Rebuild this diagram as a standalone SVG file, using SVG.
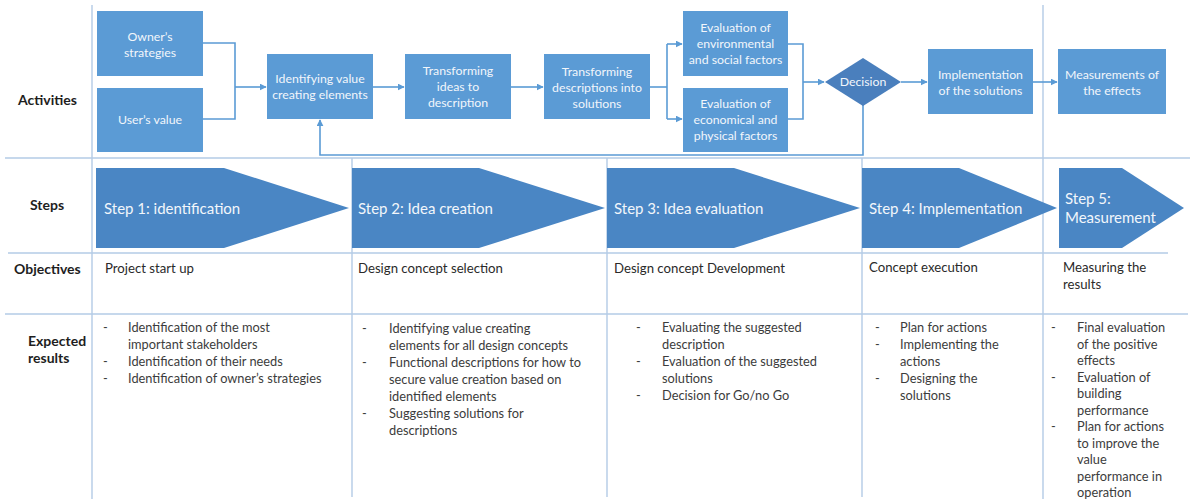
<svg xmlns="http://www.w3.org/2000/svg" width="1190" height="502" viewBox="0 0 1190 502">
  <defs>
    <marker id="arr" viewBox="0 0 10 10" refX="9" refY="5" markerWidth="7" markerHeight="7" markerUnits="userSpaceOnUse" orient="auto">
      <path d="M0,0 L10,5 L0,10 Z" fill="#5B9BD5"/>
    </marker>
    <style>
      .grid { stroke: #b3cbe6; stroke-width: 1.4; fill: none; }
      .box { fill: #5B9BD5; }
      .dec { fill: #4A7FBD; }
      .chev { fill: #4A86C4; }
      .wire { stroke: #5B9BD5; stroke-width: 1.6; fill: none; }
      .nt { font-family: Lato, "Open Sans", sans-serif; font-size: 12.3px; fill: #f2f6fb; text-anchor: middle; }
      .st { font-family: Lato, "Open Sans", sans-serif; font-size: 15px; fill: #f2f6fb; }
      .lab { font-family: Lato, "Open Sans", sans-serif; font-size: 14px; font-weight: bold; fill: #1e1e1e; }
      .body { font-family: Lato, "Open Sans", sans-serif; font-size: 12.8px; fill: #3c3c3c; }
      .obj { font-family: Lato, "Open Sans", sans-serif; font-size: 13.2px; fill: #2a2a2a; }
    </style>
  </defs>

  <rect width="1190" height="502" fill="#ffffff"/>

  <!-- table grid -->
  <g id="grid">
    <line class="grid" x1="92" y1="5" x2="92" y2="499"/>
    <line class="grid" x1="1043" y1="5" x2="1043" y2="499"/>
    <line class="grid" x1="352" y1="158" x2="352" y2="497"/>
    <line class="grid" x1="607" y1="158" x2="607" y2="497"/>
    <line class="grid" x1="862" y1="158" x2="862" y2="497"/>
    <line class="grid" x1="5" y1="158" x2="1190" y2="158"/>
    <line class="grid" x1="8" y1="253" x2="1168" y2="253"/>
    <line class="grid" x1="5" y1="314" x2="1188" y2="314"/>
  </g>

  <!-- row labels -->
  <g id="row-labels">
    <text class="lab" x="18" y="105" font-size="15">Activities</text>
    <text class="lab" x="30" y="210">Steps</text>
    <text class="lab" x="14" y="274" font-size="13">Objectives</text>
    <text class="lab" x="28" y="346" font-size="13">Expected</text>
    <text class="lab" x="28" y="363" font-size="13">results</text>
  </g>

  <!-- connectors -->
  <g id="connectors">
    <path class="wire" d="M203,43 H235 V119 H203"/>
    <path class="wire" d="M235,87 H266" marker-end="url(#arr)"/>
    <path class="wire" d="M373,87 H404" marker-end="url(#arr)"/>
    <path class="wire" d="M511,87 H543" marker-end="url(#arr)"/>
    <path class="wire" d="M650,87 H667"/>
    <path class="wire" d="M667,44 V119"/>
    <path class="wire" d="M667,44 H682" marker-end="url(#arr)"/>
    <path class="wire" d="M667,119 H682" marker-end="url(#arr)"/>
    <path class="wire" d="M788,44 H803 V119 H788"/>
    <path class="wire" d="M803,82 H824" marker-end="url(#arr)"/>
    <path class="wire" d="M901,82 H927" marker-end="url(#arr)"/>
    <path class="wire" d="M1033,82 H1057" marker-end="url(#arr)"/>
    <path class="wire" d="M863,105 V155 H320 V120" marker-end="url(#arr)"/>
  </g>

  <!-- activity nodes -->
  <g id="owners-strategies">
    <rect class="box" x="97" y="11" width="106" height="65"/>
    <text class="nt" x="150" y="41">Owner’s</text>
    <text class="nt" x="150" y="57">strategies</text>
  </g>
  <g id="users-value">
    <rect class="box" x="97" y="88" width="106" height="64"/>
    <text class="nt" x="150" y="124">User’s value</text>
  </g>
  <g id="identifying-value">
    <rect class="box" x="267" y="54" width="106" height="65"/>
    <text class="nt" x="320" y="83">Identifying value</text>
    <text class="nt" x="320" y="99">creating elements</text>
  </g>
  <g id="transforming-ideas">
    <rect class="box" x="405" y="54" width="106" height="65"/>
    <text class="nt" x="458" y="75">Transforming</text>
    <text class="nt" x="458" y="91">ideas to</text>
    <text class="nt" x="458" y="107">description</text>
  </g>
  <g id="transforming-descriptions">
    <rect class="box" x="544" y="54" width="106" height="65"/>
    <text class="nt" x="597" y="76">Transforming</text>
    <text class="nt" x="597" y="92">descriptions into</text>
    <text class="nt" x="597" y="108">solutions</text>
  </g>
  <g id="eval-environmental">
    <rect class="box" x="683" y="11" width="105" height="65"/>
    <text class="nt" x="735.5" y="32">Evaluation of</text>
    <text class="nt" x="735.5" y="48">environmental</text>
    <text class="nt" x="735.5" y="64">and social factors</text>
  </g>
  <g id="eval-economical">
    <rect class="box" x="683" y="88" width="105" height="64"/>
    <text class="nt" x="735.5" y="108">Evaluation of</text>
    <text class="nt" x="735.5" y="124">economical and</text>
    <text class="nt" x="735.5" y="140">physical factors</text>
  </g>
  <g id="decision">
    <path class="dec" d="M825,82 L863,58 L901,82 L863,106 Z"/>
    <text class="nt" x="863" y="86">Decision</text>
  </g>
  <g id="implementation">
    <rect class="box" x="928" y="49" width="105" height="65"/>
    <text class="nt" x="980.5" y="79">Implementation</text>
    <text class="nt" x="980.5" y="95">of the solutions</text>
  </g>
  <g id="measurements">
    <rect class="box" x="1058" y="49" width="108" height="65"/>
    <text class="nt" x="1112" y="79">Measurements of</text>
    <text class="nt" x="1112" y="95">the effects</text>
  </g>

  <!-- step chevrons -->
  <g id="step-1">
    <path class="chev" d="M96,168 H224 L349,208 L224,248 H96 Z"/>
    <text class="st" x="104" y="214">Step 1: identification</text>
  </g>
  <g id="step-2">
    <path class="chev" d="M352,168 H479 L605,208 L479,248 H352 Z"/>
    <text class="st" x="358" y="214">Step 2: Idea creation</text>
  </g>
  <g id="step-3">
    <path class="chev" d="M607,168 H734 L860,208 L734,248 H607 Z"/>
    <text class="st" x="614" y="214">Step 3: Idea evaluation</text>
  </g>
  <g id="step-4">
    <path class="chev" d="M862,168 H959 L1057,208 L959,248 H862 Z"/>
    <text class="st" x="869" y="214">Step 4: Implementation</text>
  </g>
  <g id="step-5">
    <path class="chev" d="M1059,168 H1122 L1184,208 L1122,248 H1059 Z"/>
    <text class="st" x="1065" y="204">Step 5:</text>
    <text class="st" x="1065" y="223">Measurement</text>
  </g>

  <!-- objectives -->
  <g id="objectives">
    <text class="obj" x="105" y="273">Project start up</text>
    <text class="obj" x="358" y="273">Design concept selection</text>
    <text class="obj" x="614" y="273">Design concept Development</text>
    <text class="obj" x="869" y="272">Concept execution</text>
    <text class="obj" x="1063" y="272">Measuring the</text>
    <text class="obj" x="1063" y="289">results</text>
  </g>

  <!-- expected results -->
  <g id="results-1" class="body">
    <text x="103" y="332">-</text><text x="128" y="332">Identification of the most</text>
    <text x="128" y="349">important stakeholders</text>
    <text x="103" y="366">-</text><text x="128" y="366">Identification of their needs</text>
    <text x="103" y="383">-</text><text x="128" y="383">Identification of owner’s strategies</text>
  </g>
  <g id="results-2" class="body">
    <text x="362" y="333">-</text><text x="389" y="333">Identifying value creating</text>
    <text x="389" y="350">elements for all design concepts</text>
    <text x="362" y="367">-</text><text x="389" y="367">Functional descriptions for how to</text>
    <text x="389" y="384">secure value creation based on</text>
    <text x="389" y="401">identified elements</text>
    <text x="362" y="418">-</text><text x="389" y="418">Suggesting solutions for</text>
    <text x="389" y="435">descriptions</text>
  </g>
  <g id="results-3" class="body">
    <text x="636" y="332">-</text><text x="662" y="332">Evaluating the suggested</text>
    <text x="662" y="349">description</text>
    <text x="636" y="366">-</text><text x="662" y="366">Evaluation of the suggested</text>
    <text x="662" y="383">solutions</text>
    <text x="636" y="400">-</text><text x="662" y="400">Decision for Go/no Go</text>
  </g>
  <g id="results-4" class="body">
    <text x="875" y="332">-</text><text x="900" y="332">Plan for actions</text>
    <text x="875" y="349">-</text><text x="900" y="349">Implementing the</text>
    <text x="900" y="366">actions</text>
    <text x="875" y="383">-</text><text x="900" y="383">Designing the</text>
    <text x="900" y="400">solutions</text>
  </g>
  <g id="results-5" class="body">
    <text x="1051" y="332">-</text><text x="1077" y="332">Final evaluation</text>
    <text x="1077" y="348.5">of the positive</text>
    <text x="1077" y="365">effects</text>
    <text x="1051" y="381.5">-</text><text x="1077" y="381.5">Evaluation of</text>
    <text x="1077" y="398">building</text>
    <text x="1077" y="414.5">performance</text>
    <text x="1051" y="431">-</text><text x="1077" y="431">Plan for actions</text>
    <text x="1077" y="447.5">to improve the</text>
    <text x="1077" y="464">value</text>
    <text x="1077" y="480.5">performance in</text>
    <text x="1077" y="497">operation</text>
  </g>
</svg>
